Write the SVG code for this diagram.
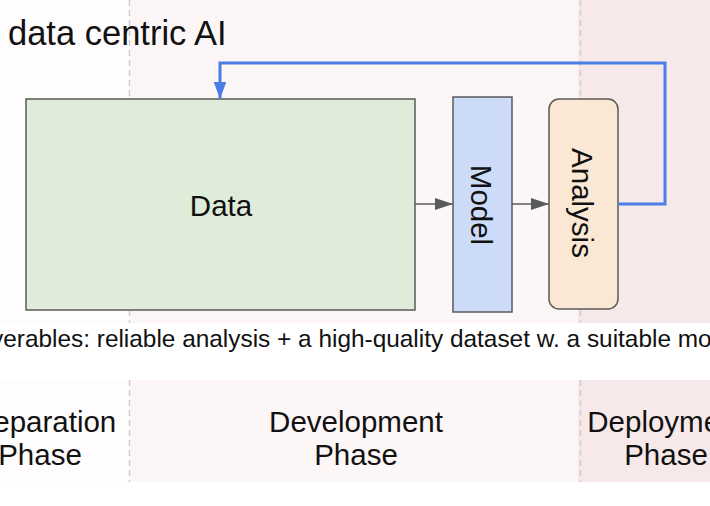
<svg xmlns="http://www.w3.org/2000/svg" width="710" height="506" viewBox="0 0 710 506">
<defs>
<style>
text{font-family:"Liberation Sans",Arial,sans-serif;fill:#111}
.node{stroke:#5a5a5a;stroke-width:1.5}
.sep{stroke:#cfcfcf;stroke-width:1.5;stroke-dasharray:6 4}
.lbl{font-size:29.5px}
.ph{font-size:29.5px;text-anchor:middle}
.flow{fill:none;stroke:#5a5a5a;stroke-width:1.5}
</style>
<marker id="ag" viewBox="0 0 18 12" refX="18" refY="6" markerWidth="18" markerHeight="12" markerUnits="userSpaceOnUse" orient="auto"><path d="M0,0 L18,6 L0,12 Z" fill="#5a5a5a"/></marker>
<marker id="ab" viewBox="0 0 17 23" refX="23" refY="8.5" markerWidth="23" markerHeight="17" markerUnits="userSpaceOnUse" orient="auto"><path d="M0,0 L23,8.5 L0,17 Z" fill="#4a7ee6"/></marker>
</defs>
<rect width="710" height="506" fill="#ffffff"/>
<g id="bands">
<rect x="0" y="0" width="130" height="323" fill="#fefcfc"/>
<rect x="130" y="0" width="448" height="323" fill="#fdf6f6"/>
<rect x="578" y="0" width="132" height="323" fill="#f7e9ea"/>
<rect x="0" y="380" width="130" height="102" fill="#fefcfc"/>
<rect x="130" y="380" width="448" height="102" fill="#fdf6f6"/>
<rect x="578" y="380" width="132" height="102" fill="#f7e9ea"/>
<line class="sep" x1="129.5" y1="0" x2="129.5" y2="323"/>
<line class="sep" x1="580.5" y1="0" x2="580.5" y2="323"/>
<line class="sep" x1="129.5" y1="380" x2="129.5" y2="482"/>
<line class="sep" x1="580.5" y1="380" x2="580.5" y2="482"/>
</g>
<text x="8" y="45" font-size="34.5">data centric AI</text>
<g id="data">
<rect class="node" x="26" y="99" width="389" height="211" fill="#dfecd9"/>
<text class="lbl" x="221" y="216" text-anchor="middle">Data</text>
</g>
<g id="model">
<rect class="node" x="453" y="97" width="59" height="215" fill="#ccdbf7"/>
<text class="lbl" x="471" y="205" text-anchor="middle" transform="rotate(90 471 205)">Model</text>
</g>
<g id="analysis">
<rect class="node" x="549" y="99" width="69" height="210" rx="10" fill="#fbe8d4"/>
<text class="lbl" x="572" y="203" text-anchor="middle" transform="rotate(90 572 203)">Analysis</text>
</g>
<g id="connectors">
<path class="flow" d="M415,204 H453" marker-end="url(#ag)"/>
<path class="flow" d="M512,204 H549" marker-end="url(#ag)"/>
<path d="M618,204 H665 V63 H220 V99" fill="none" stroke="#4a7ee6" stroke-width="3" marker-end="url(#ab)"/>
</g>
<text x="-51" y="347" font-size="24.4">Deliverables: reliable analysis + a high-quality dataset w. a suitable model</text>
<g id="phases">
<text class="ph" x="40" y="432">Preparation</text>
<text class="ph" x="40" y="465">Phase</text>
<text class="ph" x="356" y="432">Development</text>
<text class="ph" x="356" y="465">Phase</text>
<text class="ph" x="666" y="432">Deployment</text>
<text class="ph" x="666" y="465">Phase</text>
</g>
</svg>
